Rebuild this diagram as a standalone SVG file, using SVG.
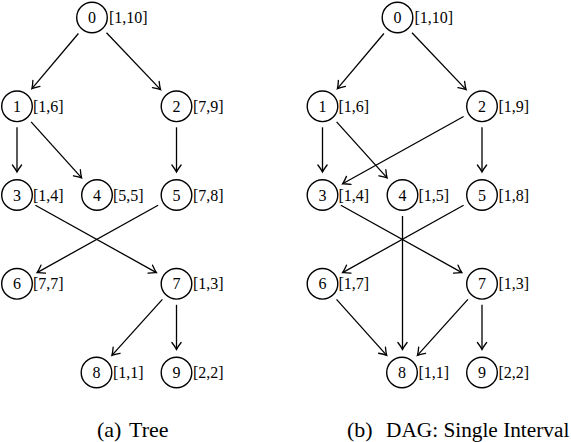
<svg xmlns="http://www.w3.org/2000/svg" width="571" height="442" viewBox="0 0 571 442">
  <defs>
    <marker id="to" markerUnits="userSpaceOnUse" orient="auto" overflow="visible" refX="0" refY="0" markerWidth="1" markerHeight="1">
      <path d="M-7,-4.6 Q-2.4,-1.1 0,0 Q-2.4,1.1 -7,4.6" fill="none" stroke="#000" stroke-width="1.3" stroke-linecap="round"/>
    </marker>
  </defs>
  <rect width="571" height="442" fill="#fff"/>

  <!-- (a) Tree -->
  <g id="tree">
    <g id="tree-edges" stroke="#000" stroke-width="1.3" marker-end="url(#to)">
      <line x1="78.4" y1="33.5" x2="31.9" y2="88.7"/>
      <line x1="106.5" y1="32.7" x2="160.6" y2="89.6"/>
      <line x1="17" y1="127.3" x2="17" y2="172"/>
      <line x1="31.1" y1="121.9" x2="81.6" y2="177.9"/>
      <line x1="176.5" y1="127.3" x2="176.5" y2="172"/>
      <line x1="35.4" y1="205.2" x2="156.4" y2="272.6"/>
      <line x1="158.1" y1="205.2" x2="37.1" y2="272.6"/>
      <line x1="162.4" y1="299.4" x2="111.9" y2="355.4"/>
      <line x1="176.5" y1="304.8" x2="176.5" y2="349.5"/>
    </g>
    <g id="tree-nodes" fill="#fff" stroke="#000" stroke-width="1.4">
      <g id="a0"><circle cx="92" cy="17.5" r="15.3"/><text font-family="Liberation Serif" font-size="16" fill="#000" stroke="none" text-anchor="middle" x="92" y="23">0</text><text font-family="Liberation Serif" font-size="16" fill="#000" stroke="none" x="109" y="23">[1,10]</text></g>
      <g id="a1"><circle cx="17" cy="106.3" r="15.3"/><text font-family="Liberation Serif" font-size="16" fill="#000" stroke="none" text-anchor="middle" x="17" y="111.8">1</text><text font-family="Liberation Serif" font-size="16" fill="#000" stroke="none" x="33" y="111.8">[1,6]</text></g>
      <g id="a2"><circle cx="176.5" cy="106.3" r="15.3"/><text font-family="Liberation Serif" font-size="16" fill="#000" stroke="none" text-anchor="middle" x="176.5" y="111.8">2</text><text font-family="Liberation Serif" font-size="16" fill="#000" stroke="none" x="193" y="111.8">[7,9]</text></g>
      <g id="a3"><circle cx="17" cy="195" r="15.3"/><text font-family="Liberation Serif" font-size="16" fill="#000" stroke="none" text-anchor="middle" x="17" y="200.5">3</text><text font-family="Liberation Serif" font-size="16" fill="#000" stroke="none" x="33" y="200.5">[1,4]</text></g>
      <g id="a4"><circle cx="97" cy="195" r="15.3"/><text font-family="Liberation Serif" font-size="16" fill="#000" stroke="none" text-anchor="middle" x="97" y="200.5">4</text><text font-family="Liberation Serif" font-size="16" fill="#000" stroke="none" x="113" y="200.5">[5,5]</text></g>
      <g id="a5"><circle cx="176.5" cy="195" r="15.3"/><text font-family="Liberation Serif" font-size="16" fill="#000" stroke="none" text-anchor="middle" x="176.5" y="200.5">5</text><text font-family="Liberation Serif" font-size="16" fill="#000" stroke="none" x="193" y="200.5">[7,8]</text></g>
      <g id="a6"><circle cx="17" cy="283.8" r="15.3"/><text font-family="Liberation Serif" font-size="16" fill="#000" stroke="none" text-anchor="middle" x="17" y="289.3">6</text><text font-family="Liberation Serif" font-size="16" fill="#000" stroke="none" x="33" y="289.3">[7,7]</text></g>
      <g id="a7"><circle cx="176.5" cy="283.8" r="15.3"/><text font-family="Liberation Serif" font-size="16" fill="#000" stroke="none" text-anchor="middle" x="176.5" y="289.3">7</text><text font-family="Liberation Serif" font-size="16" fill="#000" stroke="none" x="193" y="289.3">[1,3]</text></g>
      <g id="a8"><circle cx="96.5" cy="372.5" r="15.3"/><text font-family="Liberation Serif" font-size="16" fill="#000" stroke="none" text-anchor="middle" x="96.5" y="378">8</text><text font-family="Liberation Serif" font-size="16" fill="#000" stroke="none" x="113" y="378">[1,1]</text></g>
      <g id="a9"><circle cx="176.5" cy="372.5" r="15.3"/><text font-family="Liberation Serif" font-size="16" fill="#000" stroke="none" text-anchor="middle" x="176.5" y="378">9</text><text font-family="Liberation Serif" font-size="16" fill="#000" stroke="none" x="193" y="378">[2,2]</text></g>
    </g>
    <text font-family="Liberation Serif" font-size="22" fill="#000" x="97" y="437">(a)</text>
    <text font-family="Liberation Serif" font-size="22" fill="#000" x="129" y="437">Tree</text>
  </g>

  <!-- (b) DAG: Single Interval -->
  <g id="dag">
    <g id="dag-edges" stroke="#000" stroke-width="1.3" marker-end="url(#to)">
      <line x1="383.9" y1="33.5" x2="337.4" y2="88.7"/>
      <line x1="412" y1="32.7" x2="466.1" y2="89.6"/>
      <line x1="322.5" y1="127.3" x2="322.5" y2="172"/>
      <line x1="336.6" y1="121.9" x2="387.1" y2="177.9"/>
      <line x1="463.6" y1="116.5" x2="342.6" y2="183.8"/>
      <line x1="482" y1="127.3" x2="482" y2="172"/>
      <line x1="340.9" y1="205.2" x2="461.9" y2="272.6"/>
      <line x1="463.6" y1="205.2" x2="342.6" y2="272.6"/>
      <line x1="402.5" y1="216" x2="402.5" y2="349.5"/>
      <line x1="336.5" y1="299.4" x2="386.7" y2="355.4"/>
      <line x1="467.9" y1="299.4" x2="417.4" y2="355.4"/>
      <line x1="482" y1="304.8" x2="482" y2="349.5"/>
    </g>
    <g id="dag-nodes" fill="#fff" stroke="#000" stroke-width="1.4">
      <g id="b0"><circle cx="397.5" cy="17.5" r="15.3"/><text font-family="Liberation Serif" font-size="16" fill="#000" stroke="none" text-anchor="middle" x="397.5" y="23">0</text><text font-family="Liberation Serif" font-size="16" fill="#000" stroke="none" x="414.5" y="23">[1,10]</text></g>
      <g id="b1"><circle cx="322.5" cy="106.3" r="15.3"/><text font-family="Liberation Serif" font-size="16" fill="#000" stroke="none" text-anchor="middle" x="322.5" y="111.8">1</text><text font-family="Liberation Serif" font-size="16" fill="#000" stroke="none" x="338.5" y="111.8">[1,6]</text></g>
      <g id="b2"><circle cx="482" cy="106.3" r="15.3"/><text font-family="Liberation Serif" font-size="16" fill="#000" stroke="none" text-anchor="middle" x="482" y="111.8">2</text><text font-family="Liberation Serif" font-size="16" fill="#000" stroke="none" x="498.5" y="111.8">[1,9]</text></g>
      <g id="b3"><circle cx="322.5" cy="195" r="15.3"/><text font-family="Liberation Serif" font-size="16" fill="#000" stroke="none" text-anchor="middle" x="322.5" y="200.5">3</text><text font-family="Liberation Serif" font-size="16" fill="#000" stroke="none" x="338.5" y="200.5">[1,4]</text></g>
      <g id="b4"><circle cx="402.5" cy="195" r="15.3"/><text font-family="Liberation Serif" font-size="16" fill="#000" stroke="none" text-anchor="middle" x="402.5" y="200.5">4</text><text font-family="Liberation Serif" font-size="16" fill="#000" stroke="none" x="418.5" y="200.5">[1,5]</text></g>
      <g id="b5"><circle cx="482" cy="195" r="15.3"/><text font-family="Liberation Serif" font-size="16" fill="#000" stroke="none" text-anchor="middle" x="482" y="200.5">5</text><text font-family="Liberation Serif" font-size="16" fill="#000" stroke="none" x="498.5" y="200.5">[1,8]</text></g>
      <g id="b6"><circle cx="322.5" cy="283.8" r="15.3"/><text font-family="Liberation Serif" font-size="16" fill="#000" stroke="none" text-anchor="middle" x="322.5" y="289.3">6</text><text font-family="Liberation Serif" font-size="16" fill="#000" stroke="none" x="338.5" y="289.3">[1,7]</text></g>
      <g id="b7"><circle cx="482" cy="283.8" r="15.3"/><text font-family="Liberation Serif" font-size="16" fill="#000" stroke="none" text-anchor="middle" x="482" y="289.3">7</text><text font-family="Liberation Serif" font-size="16" fill="#000" stroke="none" x="498.5" y="289.3">[1,3]</text></g>
      <g id="b8"><circle cx="402" cy="372.5" r="15.3"/><text font-family="Liberation Serif" font-size="16" fill="#000" stroke="none" text-anchor="middle" x="402" y="378">8</text><text font-family="Liberation Serif" font-size="16" fill="#000" stroke="none" x="418.5" y="378">[1,1]</text></g>
      <g id="b9"><circle cx="482" cy="372.5" r="15.3"/><text font-family="Liberation Serif" font-size="16" fill="#000" stroke="none" text-anchor="middle" x="482" y="378">9</text><text font-family="Liberation Serif" font-size="16" fill="#000" stroke="none" x="498.5" y="378">[2,2]</text></g>
    </g>
    <text font-family="Liberation Serif" font-size="22" fill="#000" x="347" y="437">(b)</text>
    <text font-family="Liberation Serif" font-size="21.3" fill="#000" x="386" y="437">DAG: Single Interval</text>
  </g>
</svg>
